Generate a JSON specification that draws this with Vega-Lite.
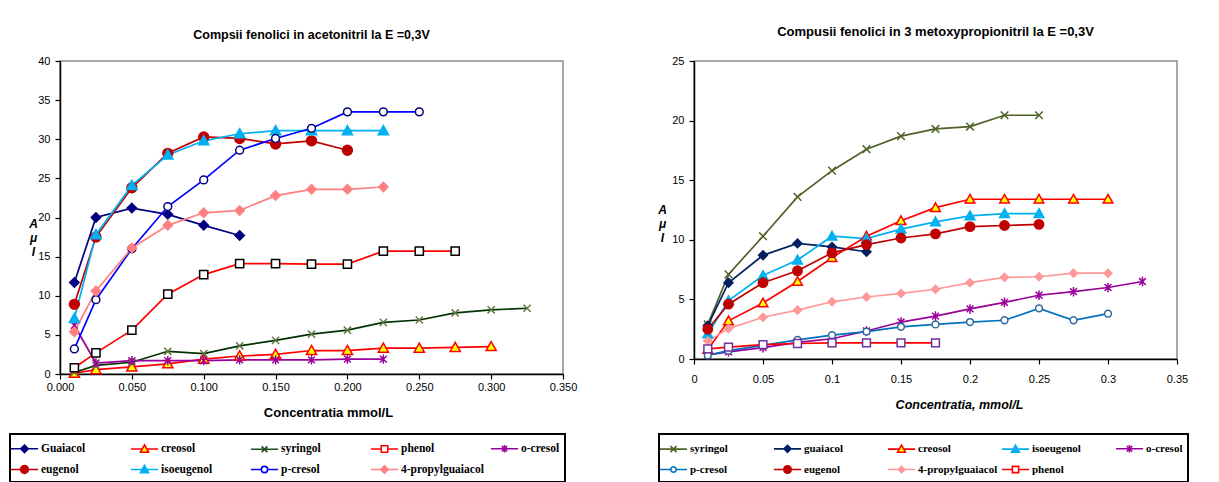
{
  "$schema": "https://vega.github.io/schema/vega-lite/v6.json",
  "padding": {"left": 8, "top": 25, "right": 0, "bottom": 0},
  "background": "white",
  "spacing": 78,
  "resolve": {
    "scale": {"color": "independent", "shape": "independent", "stroke": "independent", "fill": "independent"},
    "legend": {"color": "independent", "shape": "independent", "stroke": "independent", "fill": "independent"}
  },
  "config": {
    "view": {"stroke": "#8c8c8c", "strokeWidth": 1.5},
    "axis": {"domainColor": "black", "domainWidth": 1.5, "tickColor": "black", "tickWidth": 1.2, "tickSize": 5, "labelFont": "Liberation Sans", "labelFontSize": 11, "labelColor": "black", "labelFlush": false, "labelOverlap": false, "grid": false, "titleFont": "Liberation Sans", "titleFontWeight": "bold", "titleColor": "black", "titleFontSize": 11},
    "legend": {"strokeWidth": 2}
  },
  "datasets": {
    "left": [
      {"series": "Guaiacol", "c": 0.01, "i": 11.7}, {"series": "Guaiacol", "c": 0.025, "i": 20.0}, {"series": "Guaiacol", "c": 0.05, "i": 21.2}, {"series": "Guaiacol", "c": 0.075, "i": 20.4}, {"series": "Guaiacol", "c": 0.1, "i": 19.0}, {"series": "Guaiacol", "c": 0.125, "i": 17.7},
      {"series": "creosol", "c": 0.01, "i": 0.1}, {"series": "creosol", "c": 0.025, "i": 0.55}, {"series": "creosol", "c": 0.05, "i": 0.9}, {"series": "creosol", "c": 0.075, "i": 1.3}, {"series": "creosol", "c": 0.1, "i": 1.9}, {"series": "creosol", "c": 0.125, "i": 2.3}, {"series": "creosol", "c": 0.15, "i": 2.5}, {"series": "creosol", "c": 0.175, "i": 3.0}, {"series": "creosol", "c": 0.2, "i": 3.0}, {"series": "creosol", "c": 0.225, "i": 3.3}, {"series": "creosol", "c": 0.25, "i": 3.3}, {"series": "creosol", "c": 0.275, "i": 3.4}, {"series": "creosol", "c": 0.3, "i": 3.5},
      {"series": "syringol", "c": 0.01, "i": 0.2}, {"series": "syringol", "c": 0.025, "i": 1.1}, {"series": "syringol", "c": 0.05, "i": 1.5}, {"series": "syringol", "c": 0.075, "i": 2.9}, {"series": "syringol", "c": 0.1, "i": 2.6}, {"series": "syringol", "c": 0.125, "i": 3.6}, {"series": "syringol", "c": 0.15, "i": 4.3}, {"series": "syringol", "c": 0.175, "i": 5.1}, {"series": "syringol", "c": 0.2, "i": 5.6}, {"series": "syringol", "c": 0.225, "i": 6.6}, {"series": "syringol", "c": 0.25, "i": 6.9}, {"series": "syringol", "c": 0.275, "i": 7.8}, {"series": "syringol", "c": 0.3, "i": 8.2}, {"series": "syringol", "c": 0.325, "i": 8.4},
      {"series": "phenol", "c": 0.01, "i": 0.8}, {"series": "phenol", "c": 0.025, "i": 2.7}, {"series": "phenol", "c": 0.05, "i": 5.6}, {"series": "phenol", "c": 0.075, "i": 10.2}, {"series": "phenol", "c": 0.1, "i": 12.7}, {"series": "phenol", "c": 0.125, "i": 14.1}, {"series": "phenol", "c": 0.15, "i": 14.1}, {"series": "phenol", "c": 0.175, "i": 14.05}, {"series": "phenol", "c": 0.2, "i": 14.05}, {"series": "phenol", "c": 0.225, "i": 15.7}, {"series": "phenol", "c": 0.25, "i": 15.7}, {"series": "phenol", "c": 0.275, "i": 15.7},
      {"series": "o-cresol", "c": 0.01, "i": 6.2}, {"series": "o-cresol", "c": 0.025, "i": 1.4}, {"series": "o-cresol", "c": 0.05, "i": 1.7}, {"series": "o-cresol", "c": 0.075, "i": 1.7}, {"series": "o-cresol", "c": 0.1, "i": 1.7}, {"series": "o-cresol", "c": 0.125, "i": 1.8}, {"series": "o-cresol", "c": 0.15, "i": 1.8}, {"series": "o-cresol", "c": 0.175, "i": 1.8}, {"series": "o-cresol", "c": 0.2, "i": 1.9}, {"series": "o-cresol", "c": 0.225, "i": 1.9},
      {"series": "eugenol", "c": 0.01, "i": 8.9}, {"series": "eugenol", "c": 0.025, "i": 17.5}, {"series": "eugenol", "c": 0.05, "i": 23.8}, {"series": "eugenol", "c": 0.075, "i": 28.2}, {"series": "eugenol", "c": 0.1, "i": 30.3}, {"series": "eugenol", "c": 0.125, "i": 30.1}, {"series": "eugenol", "c": 0.15, "i": 29.4}, {"series": "eugenol", "c": 0.175, "i": 29.8}, {"series": "eugenol", "c": 0.2, "i": 28.6},
      {"series": "isoeugenol", "c": 0.01, "i": 7.1}, {"series": "isoeugenol", "c": 0.025, "i": 17.8}, {"series": "isoeugenol", "c": 0.05, "i": 24.1}, {"series": "isoeugenol", "c": 0.075, "i": 28.0}, {"series": "isoeugenol", "c": 0.1, "i": 29.8}, {"series": "isoeugenol", "c": 0.125, "i": 30.7}, {"series": "isoeugenol", "c": 0.15, "i": 31.1}, {"series": "isoeugenol", "c": 0.175, "i": 31.1}, {"series": "isoeugenol", "c": 0.2, "i": 31.1}, {"series": "isoeugenol", "c": 0.225, "i": 31.1},
      {"series": "p-cresol", "c": 0.01, "i": 3.2}, {"series": "p-cresol", "c": 0.025, "i": 9.5}, {"series": "p-cresol", "c": 0.05, "i": 16.0}, {"series": "p-cresol", "c": 0.075, "i": 21.4}, {"series": "p-cresol", "c": 0.1, "i": 24.8}, {"series": "p-cresol", "c": 0.125, "i": 28.6}, {"series": "p-cresol", "c": 0.15, "i": 30.1}, {"series": "p-cresol", "c": 0.175, "i": 31.4}, {"series": "p-cresol", "c": 0.2, "i": 33.5}, {"series": "p-cresol", "c": 0.225, "i": 33.5}, {"series": "p-cresol", "c": 0.25, "i": 33.5},
      {"series": "4-propylguaiacol", "c": 0.01, "i": 5.4}, {"series": "4-propylguaiacol", "c": 0.025, "i": 10.6}, {"series": "4-propylguaiacol", "c": 0.05, "i": 16.1}, {"series": "4-propylguaiacol", "c": 0.075, "i": 19.0}, {"series": "4-propylguaiacol", "c": 0.1, "i": 20.6}, {"series": "4-propylguaiacol", "c": 0.125, "i": 20.9}, {"series": "4-propylguaiacol", "c": 0.15, "i": 22.8}, {"series": "4-propylguaiacol", "c": 0.175, "i": 23.6}, {"series": "4-propylguaiacol", "c": 0.2, "i": 23.6}, {"series": "4-propylguaiacol", "c": 0.225, "i": 23.9}
    ],
    "right": [
      {"series": "syringol", "c": 0.01, "i": 2.9}, {"series": "syringol", "c": 0.025, "i": 7.1}, {"series": "syringol", "c": 0.05, "i": 10.3}, {"series": "syringol", "c": 0.075, "i": 13.6}, {"series": "syringol", "c": 0.1, "i": 15.8}, {"series": "syringol", "c": 0.125, "i": 17.6}, {"series": "syringol", "c": 0.15, "i": 18.7}, {"series": "syringol", "c": 0.175, "i": 19.3}, {"series": "syringol", "c": 0.2, "i": 19.5}, {"series": "syringol", "c": 0.225, "i": 20.45}, {"series": "syringol", "c": 0.25, "i": 20.45},
      {"series": "guaiacol", "c": 0.01, "i": 2.8}, {"series": "guaiacol", "c": 0.025, "i": 6.4}, {"series": "guaiacol", "c": 0.05, "i": 8.7}, {"series": "guaiacol", "c": 0.075, "i": 9.7}, {"series": "guaiacol", "c": 0.1, "i": 9.4}, {"series": "guaiacol", "c": 0.125, "i": 9.0},
      {"series": "creosol", "c": 0.01, "i": 0.8}, {"series": "creosol", "c": 0.025, "i": 3.2}, {"series": "creosol", "c": 0.05, "i": 4.7}, {"series": "creosol", "c": 0.075, "i": 6.5}, {"series": "creosol", "c": 0.1, "i": 8.5}, {"series": "creosol", "c": 0.125, "i": 10.3}, {"series": "creosol", "c": 0.15, "i": 11.6}, {"series": "creosol", "c": 0.175, "i": 12.7}, {"series": "creosol", "c": 0.2, "i": 13.4}, {"series": "creosol", "c": 0.225, "i": 13.4}, {"series": "creosol", "c": 0.25, "i": 13.4}, {"series": "creosol", "c": 0.275, "i": 13.4}, {"series": "creosol", "c": 0.3, "i": 13.4},
      {"series": "isoeugenol", "c": 0.01, "i": 2.1}, {"series": "isoeugenol", "c": 0.025, "i": 4.9}, {"series": "isoeugenol", "c": 0.05, "i": 7.0}, {"series": "isoeugenol", "c": 0.075, "i": 8.3}, {"series": "isoeugenol", "c": 0.1, "i": 10.3}, {"series": "isoeugenol", "c": 0.125, "i": 10.1}, {"series": "isoeugenol", "c": 0.15, "i": 10.9}, {"series": "isoeugenol", "c": 0.175, "i": 11.5}, {"series": "isoeugenol", "c": 0.2, "i": 12.0}, {"series": "isoeugenol", "c": 0.225, "i": 12.2}, {"series": "isoeugenol", "c": 0.25, "i": 12.2},
      {"series": "o-cresol", "c": 0.01, "i": 0.35}, {"series": "o-cresol", "c": 0.025, "i": 0.6}, {"series": "o-cresol", "c": 0.05, "i": 0.95}, {"series": "o-cresol", "c": 0.075, "i": 1.4}, {"series": "o-cresol", "c": 0.1, "i": 1.7}, {"series": "o-cresol", "c": 0.125, "i": 2.35}, {"series": "o-cresol", "c": 0.15, "i": 3.1}, {"series": "o-cresol", "c": 0.175, "i": 3.6}, {"series": "o-cresol", "c": 0.2, "i": 4.2}, {"series": "o-cresol", "c": 0.225, "i": 4.75}, {"series": "o-cresol", "c": 0.25, "i": 5.35}, {"series": "o-cresol", "c": 0.275, "i": 5.65}, {"series": "o-cresol", "c": 0.3, "i": 6.0}, {"series": "o-cresol", "c": 0.325, "i": 6.5},
      {"series": "p-cresol", "c": 0.01, "i": 0.3}, {"series": "p-cresol", "c": 0.025, "i": 0.7}, {"series": "p-cresol", "c": 0.05, "i": 1.15}, {"series": "p-cresol", "c": 0.075, "i": 1.6}, {"series": "p-cresol", "c": 0.1, "i": 2.0}, {"series": "p-cresol", "c": 0.125, "i": 2.3}, {"series": "p-cresol", "c": 0.15, "i": 2.7}, {"series": "p-cresol", "c": 0.175, "i": 2.9}, {"series": "p-cresol", "c": 0.2, "i": 3.1}, {"series": "p-cresol", "c": 0.225, "i": 3.25}, {"series": "p-cresol", "c": 0.25, "i": 4.25}, {"series": "p-cresol", "c": 0.275, "i": 3.25}, {"series": "p-cresol", "c": 0.3, "i": 3.8},
      {"series": "eugenol", "c": 0.01, "i": 2.5}, {"series": "eugenol", "c": 0.025, "i": 4.6}, {"series": "eugenol", "c": 0.05, "i": 6.4}, {"series": "eugenol", "c": 0.075, "i": 7.4}, {"series": "eugenol", "c": 0.1, "i": 8.9}, {"series": "eugenol", "c": 0.125, "i": 9.6}, {"series": "eugenol", "c": 0.15, "i": 10.15}, {"series": "eugenol", "c": 0.175, "i": 10.5}, {"series": "eugenol", "c": 0.2, "i": 11.1}, {"series": "eugenol", "c": 0.225, "i": 11.2}, {"series": "eugenol", "c": 0.25, "i": 11.3},
      {"series": "4-propylguaiacol", "c": 0.01, "i": 1.5}, {"series": "4-propylguaiacol", "c": 0.025, "i": 2.55}, {"series": "4-propylguaiacol", "c": 0.05, "i": 3.5}, {"series": "4-propylguaiacol", "c": 0.075, "i": 4.1}, {"series": "4-propylguaiacol", "c": 0.1, "i": 4.8}, {"series": "4-propylguaiacol", "c": 0.125, "i": 5.2}, {"series": "4-propylguaiacol", "c": 0.15, "i": 5.5}, {"series": "4-propylguaiacol", "c": 0.175, "i": 5.85}, {"series": "4-propylguaiacol", "c": 0.2, "i": 6.4}, {"series": "4-propylguaiacol", "c": 0.225, "i": 6.85}, {"series": "4-propylguaiacol", "c": 0.25, "i": 6.9}, {"series": "4-propylguaiacol", "c": 0.275, "i": 7.2}, {"series": "4-propylguaiacol", "c": 0.3, "i": 7.2},
      {"series": "phenol", "c": 0.01, "i": 0.85}, {"series": "phenol", "c": 0.025, "i": 1.0}, {"series": "phenol", "c": 0.05, "i": 1.2}, {"series": "phenol", "c": 0.075, "i": 1.3}, {"series": "phenol", "c": 0.1, "i": 1.35}, {"series": "phenol", "c": 0.125, "i": 1.35}, {"series": "phenol", "c": 0.15, "i": 1.35}, {"series": "phenol", "c": 0.175, "i": 1.35}
    ]
  },
  "hconcat": [
    {
      "width": 503,
      "height": 313,
      "title": {"text": "Compsii fenolici in acetonitril la  E =0,3V", "font": "Liberation Sans", "fontSize": 12.5, "fontWeight": "bold", "anchor": "middle", "offset": 14, "color": "black"},
      "data": {"name": "left"},
      "resolve": {"scale": {"shape": "independent", "stroke": "independent", "fill": "independent"}},
      "encoding": {
        "x": {"field": "c", "type": "quantitative", "scale": {"domain": [0, 0.35], "nice": false, "zero": true},
          "axis": {"values": [0, 0.05, 0.1, 0.15, 0.2, 0.25, 0.3, 0.35], "format": ".3f", "labelPadding": 2, "title": "Concentratia mmol/L", "titleX": 268, "titleY": 38, "titleAlign": "center", "titleBaseline": "middle", "titleFontSize": 13}},
        "y": {"field": "i", "type": "quantitative", "scale": {"domain": [0, 40], "nice": false},
          "axis": {"values": [0, 5, 10, 15, 20, 25, 30, 35, 40], "labelPadding": 5, "title": ["A", "μ", "I"], "titleAngle": 0, "titleX": -27, "titleY": 162, "titleAlign": "center", "titleBaseline": "middle", "titleLineHeight": 14, "titleFontStyle": "italic", "titleFontSize": 12}}
      },
      "layer": [
        {
          "mark": {"type": "line", "strokeWidth": 1.7},
          "encoding": {
            "color": {"field": "series", "type": "nominal",
              "scale": {"domain": ["Guaiacol", "creosol", "syringol", "phenol", "o-cresol", "eugenol", "isoeugenol", "p-cresol", "4-propylguaiacol"],
                "range": ["#000080", "#ff0000", "#003300", "#ff0000", "#990099", "#c00000", "#00b0f0", "#0000ff", "#ff8080"]},
              "legend": null}
          }
        },
        {
          "mark": {"type": "point", "size": 289, "strokeWidth": 1.5, "opacity": 1},
          "encoding": {
            "shape": {"field": "series", "type": "nominal", "legend": null,
              "scale": {"domain": ["Guaiacol", "creosol", "syringol", "phenol", "o-cresol", "eugenol", "isoeugenol", "p-cresol", "4-propylguaiacol"], "range": [
                "M0,-0.55L0.55,0L0,0.55L-0.55,0Z",
                "M0,-0.6L0.6,0.47L-0.6,0.47Z",
                "M-0.42,-0.42L0.42,0.42M-0.42,0.42L0.42,-0.42",
                "M-0.48,-0.48L0.48,-0.48L0.48,0.48L-0.48,0.48Z",
                "M-0.4,-0.4L0.4,0.4M-0.4,0.4L0.4,-0.4M0,-0.55L0,0.55",
                "M-0.58,0A0.58,0.58,0,1,0,0.58,0A0.58,0.58,0,1,0,-0.58,0Z",
                "M0,-0.6L0.6,0.47L-0.6,0.47Z",
                "M-0.46,0A0.46,0.46,0,1,0,0.46,0A0.46,0.46,0,1,0,-0.46,0Z",
                "M0,-0.55L0.55,0L0,0.55L-0.55,0Z"
              ]}},
            "stroke": {"field": "series", "type": "nominal", "legend": null,
              "scale": {"domain": ["Guaiacol", "creosol", "syringol", "phenol", "o-cresol", "eugenol", "isoeugenol", "p-cresol", "4-propylguaiacol"], "range": ["#000080", "#ff0000", "#667744", "#000000", "#990099", "#c00000", "#00b0f0", "#000080", "#ff8080"]}},
            "fill": {"field": "series", "type": "nominal", "legend": null,
              "scale": {"domain": ["Guaiacol", "creosol", "syringol", "phenol", "o-cresol", "eugenol", "isoeugenol", "p-cresol", "4-propylguaiacol"], "range": ["#000080", "#ffff00", "transparent", "#ffffff", "transparent", "#c00000", "#00b0f0", "#ffffff", "#ff8080"]}}
          }
        },
        {
          "transform": [{"filter": "false"}],
          "mark": {"type": "point", "size": 289, "strokeWidth": 1.6, "opacity": 1},
          "encoding": {
            "shape": {"field": "series", "type": "nominal",
              "scale": {"domain": ["Guaiacol", "creosol", "syringol", "phenol", "o-cresol", "eugenol", "isoeugenol", "p-cresol", "4-propylguaiacol"], "range": [
                "M-1.6,0L-0.44,0M0.44,0L1.6,0M0,-0.44L0.44,0L0,0.44L-0.44,0Z",
                "M-1.6,0L-0.27,0M0.27,0L1.6,0M0,-0.48L0.48,0.38L-0.48,0.38Z",
                "M-1.6,0L1.6,0M-0.34,-0.34L0.34,0.34M-0.34,0.34L0.34,-0.34",
                "M-1.6,0L-0.38,0M0.38,0L1.6,0M-0.38,-0.38L0.38,-0.38L0.38,0.38L-0.38,0.38Z",
                "M-1.6,0L1.6,0M-0.32,-0.32L0.32,0.32M-0.32,0.32L0.32,-0.32M0,-0.44L0,0.44",
                "M-1.6,0L-0.46,0M0.46,0L1.6,0M-0.46,0A0.46,0.46,0,1,0,0.46,0A0.46,0.46,0,1,0,-0.46,0Z",
                "M-1.6,0L-0.27,0M0.27,0L1.6,0M0,-0.48L0.48,0.38L-0.48,0.38Z",
                "M-1.6,0L-0.37,0M0.37,0L1.6,0M-0.37,0A0.37,0.37,0,1,0,0.37,0A0.37,0.37,0,1,0,-0.37,0Z",
                "M-1.6,0L-0.44,0M0.44,0L1.6,0M0,-0.44L0.44,0L0,0.44L-0.44,0Z"
              ]},
              "legend": {"orient": "none", "legendX": -50, "legendY": 373, "direction": "horizontal", "columns": 5, "title": null, "symbolSize": 289, "symbolStrokeWidth": 1.6, "labelFont": "Liberation Serif", "labelFontSize": 11.5, "labelFontWeight": "bold", "labelColor": "black", "labelOffset": 7, "labelLimit": 300, "columnPadding": 3, "rowPadding": 4, "gridAlign": "all", "padding": 5, "strokeColor": "black"}},
            "stroke": {"field": "series", "type": "nominal",
              "scale": {"domain": ["Guaiacol", "creosol", "syringol", "phenol", "o-cresol", "eugenol", "isoeugenol", "p-cresol", "4-propylguaiacol"], "range": ["#000080", "#ff0000", "#1f4d1f", "#ff0000", "#990099", "#c00000", "#00b0f0", "#0000ff", "#ff8080"]},
              "legend": {"orient": "none", "legendX": -50, "legendY": 373, "direction": "horizontal", "columns": 5, "title": null, "symbolSize": 289, "symbolStrokeWidth": 1.6, "labelFont": "Liberation Serif", "labelFontSize": 11.5, "labelFontWeight": "bold", "labelColor": "black", "labelOffset": 7, "labelLimit": 300, "columnPadding": 3, "rowPadding": 4, "gridAlign": "all", "padding": 5, "strokeColor": "black"}},
            "fill": {"field": "series", "type": "nominal",
              "scale": {"domain": ["Guaiacol", "creosol", "syringol", "phenol", "o-cresol", "eugenol", "isoeugenol", "p-cresol", "4-propylguaiacol"], "range": ["#000080", "#ffff00", "transparent", "#ffffff", "transparent", "#c00000", "#00b0f0", "#ffffff", "#ff8080"]},
              "legend": {"orient": "none", "legendX": -50, "legendY": 373, "direction": "horizontal", "columns": 5, "title": null, "symbolSize": 289, "symbolStrokeWidth": 1.6, "labelFont": "Liberation Serif", "labelFontSize": 11.5, "labelFontWeight": "bold", "labelColor": "black", "labelOffset": 7, "labelLimit": 300, "columnPadding": 3, "rowPadding": 4, "gridAlign": "all", "padding": 5, "strokeColor": "black"}}
          }
        }
      ]
    },
    {
      "width": 483,
      "height": 298,
      "title": {"text": "Compusii fenolici in 3 metoxypropionitril la  E =0,3V", "font": "Liberation Sans", "fontSize": 13, "fontWeight": "bold", "anchor": "middle", "offset": 16, "color": "black"},
      "data": {"name": "right"},
      "resolve": {"scale": {"shape": "independent", "stroke": "independent", "fill": "independent"}},
      "encoding": {
        "x": {"field": "c", "type": "quantitative", "scale": {"domain": [0, 0.35], "nice": false, "zero": true},
          "axis": {"values": [0, 0.05, 0.1, 0.15, 0.2, 0.25, 0.3, 0.35], "format": "~g", "labelPadding": 9, "title": "Concentratia, mmol/L", "titleX": 265, "titleY": 45, "titleAlign": "center", "titleBaseline": "middle", "titleFontStyle": "italic", "titleFontSize": 12.5}},
        "y": {"field": "i", "type": "quantitative", "scale": {"domain": [0, 25], "nice": false},
          "axis": {"values": [0, 5, 10, 15, 20, 25], "labelPadding": 5, "title": ["A", "μ", "I"], "titleAngle": 0, "titleX": -32, "titleY": 148, "titleAlign": "center", "titleBaseline": "middle", "titleLineHeight": 14, "titleFontStyle": "italic", "titleFontSize": 12}}
      },
      "layer": [
        {
          "mark": {"type": "line", "strokeWidth": 1.7},
          "encoding": {
            "color": {"field": "series", "type": "nominal",
              "scale": {"domain": ["syringol", "guaiacol", "creosol", "isoeugenol", "o-cresol", "p-cresol", "eugenol", "4-propylguaiacol", "phenol"],
                "range": ["#4f6228", "#002060", "#ff0000", "#00b0f0", "#990099", "#0070c0", "#c00000", "#ff9999", "#ff0000"]},
              "legend": null}
          }
        },
        {
          "mark": {"type": "point", "size": 289, "strokeWidth": 1.5, "opacity": 1},
          "encoding": {
            "shape": {"field": "series", "type": "nominal", "legend": null,
              "scale": {"domain": ["syringol", "guaiacol", "creosol", "isoeugenol", "o-cresol", "p-cresol", "eugenol", "4-propylguaiacol", "phenol"], "range": [
                "M-0.45,-0.45L0.45,0.45M-0.45,0.45L0.45,-0.45",
                "M0,-0.52L0.52,0L0,0.52L-0.52,0Z",
                "M0,-0.57L0.57,0.45L-0.57,0.45Z",
                "M0,-0.57L0.57,0.45L-0.57,0.45Z",
                "M-0.4,-0.4L0.4,0.4M-0.4,0.4L0.4,-0.4M0,-0.56L0,0.56",
                "M-0.4,0A0.4,0.4,0,1,0,0.4,0A0.4,0.4,0,1,0,-0.4,0Z",
                "M-0.55,0A0.55,0.55,0,1,0,0.55,0A0.55,0.55,0,1,0,-0.55,0Z",
                "M0,-0.47L0.47,0L0,0.47L-0.47,0Z",
                "M-0.46,-0.46L0.46,-0.46L0.46,0.46L-0.46,0.46Z"
              ]}},
            "stroke": {"field": "series", "type": "nominal", "legend": null,
              "scale": {"domain": ["syringol", "guaiacol", "creosol", "isoeugenol", "o-cresol", "p-cresol", "eugenol", "4-propylguaiacol", "phenol"], "range": ["#4f6228", "#002060", "#ff0000", "#00b0f0", "#990099", "#336699", "#c00000", "#ff9999", "#7030a0"]}},
            "fill": {"field": "series", "type": "nominal", "legend": null,
              "scale": {"domain": ["syringol", "guaiacol", "creosol", "isoeugenol", "o-cresol", "p-cresol", "eugenol", "4-propylguaiacol", "phenol"], "range": ["transparent", "#002060", "#ffff00", "#00b0f0", "transparent", "#ffffff", "#c00000", "#ff9999", "#ffffff"]}}
          }
        },
        {
          "transform": [{"filter": "false"}],
          "mark": {"type": "point", "size": 289, "strokeWidth": 1.6, "opacity": 1},
          "encoding": {
            "shape": {"field": "series", "type": "nominal",
              "scale": {"domain": ["syringol", "guaiacol", "creosol", "isoeugenol", "o-cresol", "p-cresol", "eugenol", "4-propylguaiacol", "phenol"], "range": [
                "M-1.6,0L1.6,0M-0.36,-0.36L0.36,0.36M-0.36,0.36L0.36,-0.36",
                "M-1.6,0L-0.42,0M0.42,0L1.6,0M0,-0.42L0.42,0L0,0.42L-0.42,0Z",
                "M-1.6,0L-0.26,0M0.26,0L1.6,0M0,-0.46L0.46,0.36L-0.46,0.36Z",
                "M-1.6,0L-0.26,0M0.26,0L1.6,0M0,-0.46L0.46,0.36L-0.46,0.36Z",
                "M-1.6,0L1.6,0M-0.32,-0.32L0.32,0.32M-0.32,0.32L0.32,-0.32M0,-0.45L0,0.45",
                "M-1.6,0L-0.32,0M0.32,0L1.6,0M-0.32,0A0.32,0.32,0,1,0,0.32,0A0.32,0.32,0,1,0,-0.32,0Z",
                "M-1.6,0L-0.44,0M0.44,0L1.6,0M-0.44,0A0.44,0.44,0,1,0,0.44,0A0.44,0.44,0,1,0,-0.44,0Z",
                "M-1.6,0L-0.38,0M0.38,0L1.6,0M0,-0.38L0.38,0L0,0.38L-0.38,0Z",
                "M-1.6,0L-0.37,0M0.37,0L1.6,0M-0.37,-0.37L0.37,-0.37L0.37,0.37L-0.37,0.37Z"
              ]},
              "legend": {"orient": "none", "legendX": -35, "legendY": 373, "direction": "horizontal", "columns": 5, "title": null, "symbolSize": 289, "symbolStrokeWidth": 1.6, "labelFont": "Liberation Serif", "labelFontSize": 11, "labelFontWeight": "bold", "labelColor": "black", "labelOffset": 7, "labelLimit": 300, "columnPadding": 0, "rowPadding": 4, "gridAlign": "all", "padding": 5, "strokeColor": "black"}},
            "stroke": {"field": "series", "type": "nominal",
              "scale": {"domain": ["syringol", "guaiacol", "creosol", "isoeugenol", "o-cresol", "p-cresol", "eugenol", "4-propylguaiacol", "phenol"], "range": ["#4f6228", "#002060", "#ff0000", "#00b0f0", "#990099", "#0070c0", "#c00000", "#ff9999", "#ff0000"]},
              "legend": {"orient": "none", "legendX": -35, "legendY": 373, "direction": "horizontal", "columns": 5, "title": null, "symbolSize": 289, "symbolStrokeWidth": 1.6, "labelFont": "Liberation Serif", "labelFontSize": 11, "labelFontWeight": "bold", "labelColor": "black", "labelOffset": 7, "labelLimit": 300, "columnPadding": 0, "rowPadding": 4, "gridAlign": "all", "padding": 5, "strokeColor": "black"}},
            "fill": {"field": "series", "type": "nominal",
              "scale": {"domain": ["syringol", "guaiacol", "creosol", "isoeugenol", "o-cresol", "p-cresol", "eugenol", "4-propylguaiacol", "phenol"], "range": ["transparent", "#002060", "#ffff00", "#00b0f0", "transparent", "#ffffff", "#c00000", "#ff9999", "#ffffff"]},
              "legend": {"orient": "none", "legendX": -35, "legendY": 373, "direction": "horizontal", "columns": 5, "title": null, "symbolSize": 289, "symbolStrokeWidth": 1.6, "labelFont": "Liberation Serif", "labelFontSize": 11, "labelFontWeight": "bold", "labelColor": "black", "labelOffset": 7, "labelLimit": 300, "columnPadding": 0, "rowPadding": 4, "gridAlign": "all", "padding": 5, "strokeColor": "black"}}
          }
        }
      ]
    }
  ]
}
